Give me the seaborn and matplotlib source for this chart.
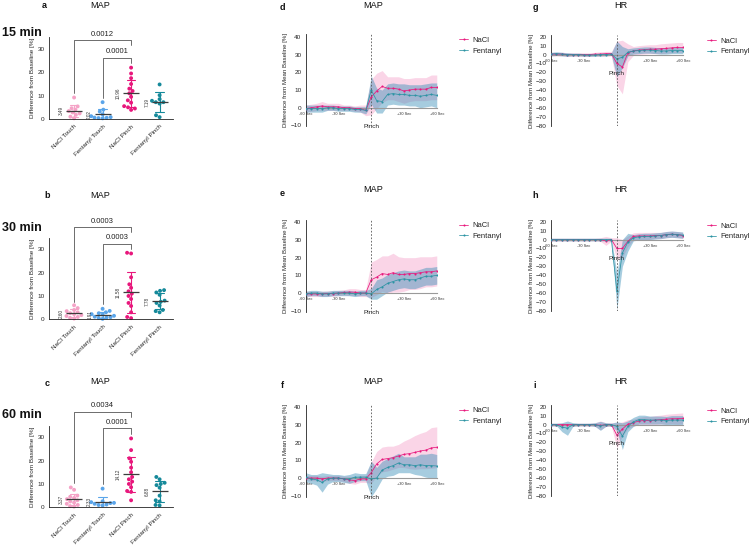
import numpy as np
import pandas as pd
import matplotlib
matplotlib.use("Agg")
import matplotlib.pyplot as plt
from matplotlib.lines import Line2D
import seaborn as sns

sns.set_theme(style="white")
plt.rcParams["font.family"] = ["Liberation Sans", "DejaVu Sans"]

W, H = 750, 547

# ---------------- scatter panels (a-c) ----------------
groups = ["NaCl Touch", "Fentanyl Touch", "NaCl Pinch", "Fentanyl Pinch"]
group_colors = ["#f5a3c7", "#5aa5ea", "#e8177c", "#15899a"]

# 15 min
a_nacl_touch = [9.2, 5.4, 4.6, 4.0, 3.4, 2.8, 2.4, 1.8, 1.0, 0.3]
a_fent_touch = [7.2, 4.0, 3.2, 2.0, 1.2, 0.8, 0.6, 0.5, 0.4, 0.3]
a_nacl_pinch = [22, 19.5, 17.5, 15, 13, 12, 11, 9.5, 8, 7, 5.5, 5, 4.5, 3.9]
a_fent_pinch = [14.8, 10.2, 8.5, 7.8, 7.2, 7.2, 6.6, 1.6, 0.8]
a_mean_labels = ["3.49", "2.02", "10.96", "7.19"]
a_pvalues = ["0.0012", "0.0001"]

# 30 min
b_nacl_touch = [6.0, 4.8, 4.0, 3.5, 3.0, 2.6, 2.2, 1.8, 1.4, 1.0, 0.6, 0.3]
b_fent_touch = [4.5, 3.6, 3.0, 2.6, 2.2, 2.0, 1.5, 1.1, 0.9, 0.7, 0.6, 0.2]
b_nacl_pinch = [28.5, 28.2, 18, 15, 13.5, 12, 11, 10, 8.7, 7, 5.7, 3, 1, 0.5]
b_fent_pinch = [12.5, 12.2, 11.5, 10.5, 8, 7.5, 7, 5.9, 4, 3.5, 3.0]
b_mean_labels = ["2.60", "1.91", "11.58", "7.78"]
b_pvalues = ["0.0003", "0.0003"]

# 60 min
c_nacl_touch = [8.5, 7.5, 5.0, 4.5, 4.0, 3.5, 3.0, 2.5, 2.0, 1.5, 1.0, 0.5, 0.3]
c_fent_touch = [8.0, 2.6, 2.2, 1.9, 1.8, 1.5, 1.2, 1.0, 0.8]
c_nacl_pinch = [29.5, 24.5, 21, 19.5, 17, 15, 13, 12, 11, 10, 8.6, 7, 6.6, 3]
c_fent_pinch = [13, 12, 10.5, 10, 9.5, 8.4, 5, 3, 2.5, 1, 0.8]
c_mean_labels = ["3.37", "2.33", "14.12", "6.88"]
c_pvalues = ["0.0034", "0.0001"]

# bracket heights: [horizontal, left foot, right foot] for the two comparisons
a_brackets = [[33.9, 11.2, 31.5], [26.3, 9.2, 24.0]]
b_brackets = [[39.6, 7.5, 37.3], [32.4, 6.5, 30.2]]
c_brackets = [[41.0, 10.5, 38.8], [33.9, 10.0, 31.6]]

# ---------------- time course panels (d-i) ----------------
time_s = list(range(-60, 61, 5))

d_nacl_mean = [-0.5, 0, 0.5, 1, 0.5, 0.5, 0.5, 0, 0, -0.5, -0.5, -1.5, 6, 9.5, 12, 11, 11, 10.5, 9.5, 10, 10.5, 10.5, 10.5, 11.5, 11.5]
d_nacl_sd = [2, 2, 2, 2.5, 2, 2, 2, 1.5, 1.5, 1.5, 2, 3, 10, 10, 9, 6.5, 6.5, 7, 7, 6.5, 6.5, 6.5, 6.5, 7, 7]
d_fent_mean = [-0.5, -0.5, -0.5, -0.5, 0, 0, -0.5, -0.5, -0.5, -1, -1, -1.5, 10, 4, 3.5, 7.5, 8, 7.5, 7.5, 7, 7, 6.5, 7, 7.5, 7]
d_fent_sd = [2, 2, 2, 2, 1.5, 1.5, 1.5, 1.5, 1.5, 1.5, 1.5, 2, 8, 7, 6.5, 6, 6, 6, 6, 6, 6, 6.5, 6.5, 6.5, 7]

e_nacl_mean = [-0.5, -0.5, -0.5, -0.5, -0.3, -0.3, 0, 0.3, 0.5, 0.5, 0, 0, 7.5, 9, 11, 10.5, 11.5, 10.5, 10.5, 11, 11, 11.5, 12, 12, 12.5]
e_nacl_sd = [1.5, 1.5, 1.5, 1.5, 1.5, 1.5, 1.5, 1.5, 2, 2, 2, 2, 10, 10, 10, 10.5, 11, 10, 9.5, 9, 9, 9, 8.5, 8.5, 8.5]
e_fent_mean = [-0.5, 0, 0, -0.5, -0.5, 0, 0, 0, 0, -0.5, 0, 0, -0.5, 2, 3.5, 5.5, 6.5, 7.5, 8, 7.5, 7.5, 8.5, 9.5, 9.5, 10]
e_fent_sd = [1.5, 1.5, 1.5, 1.5, 1.5, 1.5, 1.5, 1.5, 1.5, 1.5, 1.5, 1.5, 3, 5.5, 5, 5, 5, 5, 5, 5, 5, 5, 5, 5, 5]

f_nacl_mean = [0, 0, 0, -0.5, 0, 0, 0, -0.5, -1, -1.5, -0.5, -0.5, 3, 8, 10.5, 11, 11.5, 12.5, 13.4, 13.8, 14.5, 15.3, 15.8, 17, 17.4]
f_nacl_sd = [1.5, 1.5, 1.5, 1.5, 1.5, 1.5, 1.5, 1.5, 2, 2, 2, 2, 6, 7, 7, 7, 6.5, 6.5, 7.5, 8.5, 9.5, 10, 10.5, 11.5, 11.5]
f_fent_mean = [0.5, -0.5, -1, -2.5, -0.5, 0, 0, -0.5, -0.5, 0.5, 0.5, 0.5, -0.5, 0, 4.5, 6, 7, 8.5, 7.5, 7.5, 7, 7.5, 7, 7, 6.8]
f_fent_sd = [2.5, 2.5, 3, 5.5, 3, 2, 2, 2, 2.5, 2.5, 2, 2, 10, 6, 5, 5, 5.5, 5.5, 4.5, 4.5, 5, 6, 6.5, 7, 6.5]

g_nacl_mean = [0.5, 0.5, 0.5, 0, 0, 0, 0, 0, 0.5, 0.5, 1, 1, -10, -14, 2, 4, 5, 5.5, 6, 6, 6.5, 7, 7.5, 8, 8]
g_nacl_sd = [2, 2, 2, 2, 2, 2, 2, 2, 2, 2.5, 2.5, 2.5, 25, 30, 10, 5, 5, 5, 5, 5, 5.5, 5.5, 5.5, 5.5, 5.5]
g_fent_mean = [0.5, 1, 0.5, 0, 0, 0, -0.5, -0.5, -0.5, 0, 0, 0.5, -5, -3, 2.5, 4, 4.5, 5, 5, 4.5, 4, 4, 4.5, 4.5, 4.5]
g_fent_sd = [2, 2, 2, 2, 1.5, 1.5, 1.5, 1.5, 1.5, 1.5, 1.5, 1.5, 20, 12, 4, 3.5, 3.5, 3.5, 3.5, 3.5, 3.5, 3.5, 3.5, 3.5, 3.5]

h_nacl_mean = [0, 0, 0, 0, 0, 0, 0, 0, 0, 0, -1.5, 0, -10, -10, -2, 3.5, 4, 4, 4, 4.5, 4.5, 5.5, 6, 5.5, 4.5]
h_nacl_sd = [1.5, 1.5, 1.5, 1.5, 1.5, 1.5, 1.5, 1.5, 1.5, 2, 5, 2, 12, 10, 6, 4, 4, 4, 4, 3.5, 3.5, 3.5, 3.5, 3.5, 3.5]
h_fent_mean = [0, 0, 0, 0, 0, 0, 0, 0, 0, 0, 0, 0, -58, -15, -3, 2, 3, 3.5, 3.5, 4, 4.5, 5.5, 6, 5.5, 5]
h_fent_sd = [1.5, 1.5, 1.5, 1.5, 1.5, 1.5, 1.5, 1.5, 1.5, 1.5, 1.5, 1.5, 20, 15, 10, 3.5, 3.5, 3.5, 3.5, 3.5, 3.5, 3.5, 3.5, 3.5, 3.5]

i_nacl_mean = [0, 0, 0, 0, 0, 0, 0, 0, 0, -1, 0, 0, -12, -5, 0.5, 2, 4, 4.5, 4.5, 5, 5.5, 6, 6.5, 6.5, 7]
i_nacl_sd = [1.5, 1.5, 1.5, 1.5, 1.5, 1.5, 1.5, 1.5, 2, 5, 2, 2, 14, 8, 5, 4, 4, 4.5, 4.5, 5, 5, 5.5, 5.5, 6, 6]
i_fent_mean = [0, 0, -3, -4, 0, 0, 0, 0, 0, -1.5, 0, 0, -2, -13, -2, 3, 5.5, 5.5, 5, 5, 5, 4.5, 5, 5, 5]
i_fent_sd = [1.5, 1.5, 5, 8, 2, 1.5, 1.5, 1.5, 2, 5, 2, 1.5, 5, 15, 6, 5, 5, 5, 4.5, 4.5, 4.5, 4.5, 5, 5, 5]

nacl_line = "#e8177c"
fent_line = "#2b93a3"
nacl_fill = ("#e8177c", 0.18)
fent_fill = ("#3a8fb8", 0.45)


def fig_xy(px, py):
    return px / W, 1 - py / H


fig = plt.figure(figsize=(W / 100, H / 100), dpi=100)


def scatter_panel(rect, values, mean_labels, pvalues, brackets):
    ax = fig.add_axes(rect)
    df = pd.DataFrame({
        "group": np.repeat(groups, [len(v) for v in values]),
        "value": np.concatenate(values),
    })
    pal = dict(zip(groups, group_colors))
    sns.swarmplot(data=df, x="group", y="value", hue="group", order=groups,
                  hue_order=groups, palette=pal, size=2.8, legend=False,
                  ax=ax, zorder=2, clip_on=False)
    sns.pointplot(data=df, x="group", y="value", hue="group", order=groups,
                  hue_order=groups, palette=pal, errorbar="sd", capsize=0.3,
                  linestyle="none", markersize=0, err_kws={"linewidth": 0.8},
                  legend=False, ax=ax, zorder=3)
    sns.pointplot(data=df, x="group", y="value", order=groups, errorbar=None,
                  color="#3c3c3c", marker="_", markersize=12,
                  markeredgewidth=0.9, linestyle="none", ax=ax, zorder=4)
    for k, lab in enumerate(mean_labels):
        ax.text(k - 0.45, float(lab), lab, rotation=90, ha="center",
                va="center", fontsize=3.3, color="#333333")
    for (yb, yl, yr), p, x0 in zip(brackets, pvalues, [0, 1]):
        ax.plot([x0, x0, 2, 2], [yl, yb, yb, yr], color="#555555", lw=0.6,
                clip_on=False, zorder=5)
        ax.text((x0 + 2) / 2, yb + 1.0, p, ha="center", va="bottom",
                fontsize=5.5, color="#222222")
    ax.set_xlim(-0.88, 3.47)
    ax.set_ylim(0, 35)
    ax.set_yticks([0, 10, 20, 30])
    ax.set_xlabel("")
    ax.set_ylabel("Difference from Baseline [%]", fontsize=4.6, labelpad=1.5)
    ax.tick_params(axis="y", labelsize=4.6, length=2, width=0.5, pad=1)
    ax.tick_params(axis="x", labelsize=4.5, length=2, width=0.5, pad=1.5)
    plt.setp(ax.get_xticklabels(), rotation=45, ha="right",
             rotation_mode="anchor")
    sns.despine(ax=ax)
    for s in ["left", "bottom"]:
        ax.spines[s].set_linewidth(0.6)
        ax.spines[s].set_color("#222222")
    ax.set_facecolor("none")
    return ax


def trace_panel(rect, nacl_mean, nacl_sd, fent_mean, fent_sd, ylim, yticks,
                legend_anchor):
    ax = fig.add_axes(rect)
    n = len(time_s)
    df = pd.DataFrame({
        "time": time_s * 2,
        "value": nacl_mean + fent_mean,
        "sd": nacl_sd + fent_sd,
        "group": ["NaCl"] * n + ["Fentanyl"] * n,
    })
    for grp, (col, alpha) in [("NaCl", nacl_fill), ("Fentanyl", fent_fill)]:
        sub = df[df["group"] == grp]
        ax.fill_between(sub["time"], sub["value"] - sub["sd"],
                        sub["value"] + sub["sd"], color=col, alpha=alpha,
                        lw=0, zorder=1)
    sns.lineplot(data=df, x="time", y="value", hue="group",
                 hue_order=["NaCl", "Fentanyl"],
                 palette={"NaCl": nacl_line, "Fentanyl": fent_line},
                 marker="o", markersize=1.5, markeredgewidth=0, linewidth=0.55,
                 estimator=None, legend=False, ax=ax, zorder=3)
    ax.axvline(0, color="#555555", lw=0.6, ls=(0, (2, 2)), zorder=4)
    ax.set_xlim(-60, 60.5)
    ax.set_ylim(*ylim)
    ax.set_yticks(yticks)
    ax.set_xticks([-60, -30, 30, 60])
    ax.set_xticklabels(["-60 Sec", "-30 Sec", "+30 Sec", "+60 Sec"])
    ax.set_xlabel("")
    ax.set_ylabel("Difference from Mean Baseline [%]", fontsize=4.4,
                  labelpad=1.5)
    ax.tick_params(axis="y", labelsize=4.6, length=2, width=0.5, pad=1)
    ax.tick_params(axis="x", labelsize=2.8, length=2, width=0.5, pad=1)
    ax.spines["top"].set_visible(False)
    ax.spines["right"].set_visible(False)
    ax.spines["bottom"].set_position(("data", 0))
    ax.spines["bottom"].set_color("#9a9a9a")
    ax.spines["bottom"].set_linewidth(0.8)
    ax.spines["left"].set_color("#222222")
    ax.spines["left"].set_linewidth(0.6)
    ax.annotate("Pinch", xy=(0, 0), xycoords="data", xytext=(0, -19),
                textcoords="offset pixels", ha="center", va="center",
                fontsize=4.6, color="#222222")
    handles = [Line2D([], [], color=nacl_line, marker="o", ms=1.5, mew=0,
                      lw=0.55),
               Line2D([], [], color=fent_line, marker="o", ms=1.5, mew=0,
                      lw=0.55)]
    ax.legend(handles, ["NaCl", "Fentanyl"], loc="upper left",
              bbox_to_anchor=legend_anchor, frameon=False, fontsize=5.5,
              handlelength=1.2, handletextpad=0.6, borderpad=0,
              borderaxespad=0, labelspacing=0.45)
    ax.set_facecolor("none")
    return ax


# scatter axes: left 49px, width 124px, 0..35 spans 81.7px
scatter_bottoms = [119, 319.3, 507.3]
scatter_sets = [
    ([a_nacl_touch, a_fent_touch, a_nacl_pinch, a_fent_pinch], a_mean_labels, a_pvalues, a_brackets),
    ([b_nacl_touch, b_fent_touch, b_nacl_pinch, b_fent_pinch], b_mean_labels, b_pvalues, b_brackets),
    ([c_nacl_touch, c_fent_touch, c_nacl_pinch, c_fent_pinch], c_mean_labels, c_pvalues, c_brackets),
]
for yb, (vals, ml, pv, br) in zip(scatter_bottoms, scatter_sets):
    scatter_panel([49 / W, 1 - yb / H, 124 / W, 81.7 / H], vals, ml, pv, br)

map_ylim = (-10.5, 41.5)
map_ticks = [-10, 0, 10, 20, 30, 40]
hr_ylim = (-80.5, 22)
hr_ticks = list(range(-80, 21, 10))

map_bottoms = [126.3, 311.6, 496.6]
map_sets = [
    (d_nacl_mean, d_nacl_sd, d_fent_mean, d_fent_sd),
    (e_nacl_mean, e_nacl_sd, e_fent_mean, e_fent_sd),
    (f_nacl_mean, f_nacl_sd, f_fent_mean, f_fent_sd),
]
for yb, s in zip(map_bottoms, map_sets):
    trace_panel([305.7 / W, 1 - yb / H, 131.6 / W, 92 / H], *s,
                map_ylim, map_ticks, (1.165, 0.975))

hr_bottoms = [126.4, 311.4, 496.4]
hr_sets = [
    (g_nacl_mean, g_nacl_sd, g_fent_mean, g_fent_sd),
    (h_nacl_mean, h_nacl_sd, h_fent_mean, h_fent_sd),
    (i_nacl_mean, i_nacl_sd, i_fent_mean, i_fent_sd),
]
for yb, s in zip(hr_bottoms, hr_sets):
    trace_panel([551 / W, 1 - yb / H, 132.3 / W, 91.5 / H], *s,
                hr_ylim, hr_ticks, (1.177, 0.975))

# panel letters, titles and row labels (pixel positions)
letters = [("a", 44, 6), ("b", 47, 195), ("c", 47, 384),
           ("d", 282, 7), ("e", 282, 194), ("f", 282, 385),
           ("g", 535, 8), ("h", 535, 195), ("i", 535, 386)]
for t, px, py in letters:
    fig.text(*fig_xy(px, py), t, fontsize=6.5, fontweight="bold",
             ha="center", va="center", color="#111111")

titles = [("MAP", 100, 6), ("MAP", 100, 195), ("MAP", 100, 381),
          ("MAP", 373, 5), ("MAP", 373, 189), ("MAP", 373, 381),
          ("HR", 621, 5), ("HR", 621, 189), ("HR", 621, 381)]
for t, px, py in titles:
    fig.text(*fig_xy(px, py), t, fontsize=6.6, ha="center", va="center",
             color="#111111")

row_labels = [("15 min", 33), ("30 min", 228), ("60 min", 415)]
for t, py in row_labels:
    fig.text(*fig_xy(2, py), t, fontsize=9, fontweight="bold", ha="left",
             va="center", color="#111111")

fig.savefig("out.png", dpi=100, facecolor="white")
